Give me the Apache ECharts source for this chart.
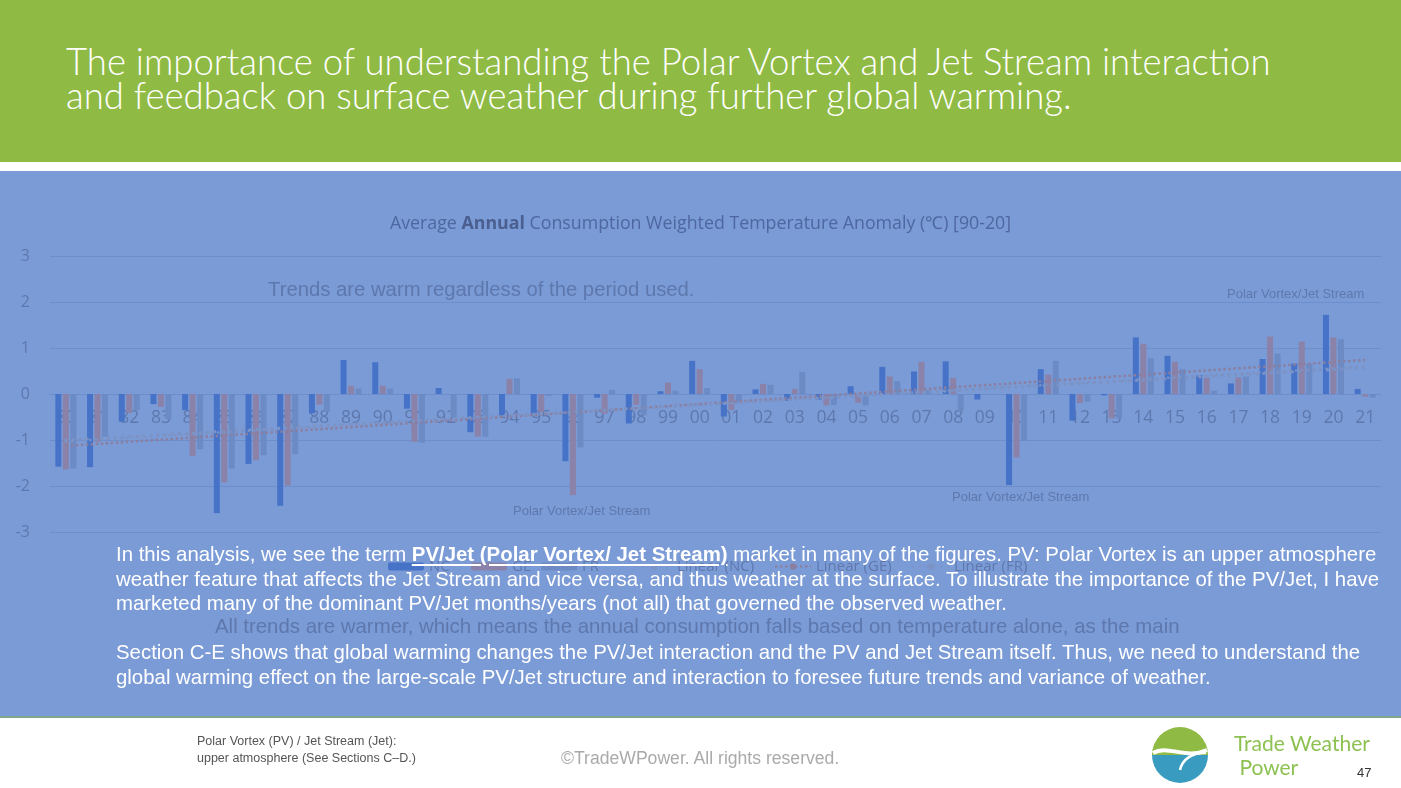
<!DOCTYPE html>
<html>
<head>
<meta charset="utf-8">
<script src="https://cdn.jsdelivr.net/npm/echarts@6/dist/echarts.min.js"></script>
<style>
  html, body { margin:0; padding:0; width:1401px; height:788px; overflow:hidden; background:#fff; }
  #header { position:absolute; left:0; top:0; width:1401px; height:162px; background:#8FBB45; }
  #htitle { position:absolute; left:66px; top:44px; color:#fff; font-family:Lato, sans-serif; font-weight:300; font-size:36.5px; line-height:34px; white-space:nowrap; }
  #blue { position:absolute; left:0; top:171px; width:1401px; height:545px; background:#7B9BD6; }
  #gline { position:absolute; left:0; top:716px; width:1401px; height:2px; background:#7FA58A; }
  #chart { position:absolute; left:0; top:0; width:1401px; height:788px; }
  #para { position:absolute; left:116px; top:542px; color:#fff; font-family:"Liberation Sans", Arial, sans-serif; font-size:20.4px; line-height:24.5px; white-space:nowrap; }
  #para u { text-decoration-thickness:2px; text-underline-offset:3px; }
  .foot { position:absolute; font-family:"Liberation Sans", Arial, sans-serif; white-space:nowrap; }
</style>
</head>
<body>
<div id="header"><div id="htitle">The importance of understanding the Polar Vortex and Jet Stream interaction<br>and feedback on surface weather during further global warming.</div></div>
<div id="blue"></div>
<div id="gline"></div>
<div id="chart"></div>
<div id="para">In this analysis, we see the term <b><u>PV/Jet (Polar Vortex/ Jet Stream)</u></b> market in many of the figures. PV: Polar Vortex is an upper atmosphere<br>weather feature that affects the Jet Stream and vice versa, and thus weather at the surface. To illustrate the importance of the PV/Jet, I have<br>marketed many of the dominant PV/Jet months/years (not all) that governed the observed weather.<br><br>Section C-E shows that global warming changes the PV/Jet interaction and the PV and Jet Stream itself. Thus, we need to understand the<br>global warming effect on the large-scale PV/Jet structure and interaction to foresee future trends and variance of weather.</div>
<div class="foot" style="left:197px; top:733px; font-size:12.5px; line-height:17px; color:#555;">Polar Vortex (PV) / Jet Stream (Jet):<br>upper atmosphere (See Sections C–D.)</div>
<div class="foot" style="left:561px; top:748px; font-size:17.6px; color:#aaa;">©TradeWPower. All rights reserved.</div>
<div class="foot" style="left:1234px; top:731px; font-size:21px; line-height:24px; color:#8DC152; font-family:Lato, sans-serif;">Trade Weather<br>&nbsp;Power</div>
<div class="foot" style="left:1357px; top:765px; font-size:13px; color:#333;">47</div>
<script>
var years = ['80','81','82','83','84','85','86','87','88','89','90','91','92','93','94','95','96','97','98','99','00','01','02','03','04','05','06','07','08','09','10','11','12','13','14','15','16','17','18','19','20','21'];
var valNC = [-1.58,-1.59,-0.60,-0.22,-0.35,-2.59,-1.52,-2.43,-0.42,0.74, 0.69,-0.32,0.13,-0.83,-0.46,-0.43,-1.46,-0.08,-0.64,0.06, 0.72,-0.49,0.10,-0.15,-0.12,0.17,0.59,0.49,0.71,-0.12, -1.98,0.54,-0.58,-0.03,1.23,0.83,0.41,0.23,0.76,0.66,1.72,0.11];
var valGE = [-1.64,-1.04,-0.41,-0.28,-1.35,-1.92,-1.44,-1.99,-0.23,0.18, 0.18,-1.04,0.00,-0.93,0.33,-0.39,-2.20,-0.43,-0.24,0.25, 0.54,-0.35,0.22,0.11,-0.25,-0.19,0.38,0.70,0.35,0.00, -1.38,0.42,-0.20,-0.53,1.09,0.70,0.35,0.36,1.25,1.14,1.23,-0.06];
var valFR = [-1.62,-0.93,-0.35,-0.55,-1.20,-1.62,-1.33,-1.31,-0.39,0.12, 0.12,-1.06,-0.50,-0.93,0.34,-0.04,-1.16,0.09,-0.46,0.07, 0.13,-0.18,0.20,0.48,-0.24,-0.25,0.28,0.08,-0.37,0.00, -1.01,0.72,-0.17,-0.53,0.78,0.54,0.07,0.38,0.88,0.66,1.19,-0.08];
// trend line end values (first year, last year)
var trendNC = [-1.03, 0.60];
var trendGE = [-1.13, 0.74];
var trendFR = [-1.00, 0.57];
var yTicks = [-3, 3, 1];

function ends(pair) {
  return years.map(function (y, i) { return i === 0 ? pair[0] : (i === years.length - 1 ? pair[1] : null); });
}

var txt = '#5E78AE';
var chart = echarts.init(document.getElementById('chart'), null, { renderer: 'canvas' });
function lg(left, name) {
  return { left: left, top: 554, data: [name], itemWidth: 36, itemHeight: 8, itemGap: 6,
           textStyle: { color: txt, fontSize: 15, fontFamily: 'Open Sans' } };
}
chart.setOption({
  backgroundColor: 'transparent',
  animation: false,
  title: {
    left: 'center', top: 210,
    text: '{n|Average }{b|Annual}{n| Consumption Weighted Temperature Anomaly (℃) [90-20]}',
    textStyle: { fontWeight: 'normal', rich: {
      n: { fontFamily: 'Open Sans', fontSize: 17.8, fontWeight: 'normal', color: '#4E67A0' },
      b: { fontFamily: 'Open Sans', fontSize: 17.8, fontWeight: 'bold', color: '#4A5F90' }
    } }
  },
  legend: [ lg(383, 'NC'), lg(466, 'GE'), lg(536, 'FR'), lg(630, 'Linear (NC)'), lg(769, 'Linear (GE)'), lg(907, 'Linear (FR)') ],
  grid: { left: 50, right: 20, top: 256, bottom: 256, containLabel: false },
  xAxis: {
    type: 'category', data: years, position: 'bottom', offset: -138,
    axisLine: { onZero: false, lineStyle: { color: '#6E8DCB', width: 1 } },
    axisTick: { show: false },
    axisLabel: { color: txt, fontSize: 17.5, fontFamily: 'Open Sans', margin: 15, interval: 0 },
    splitLine: { show: false }
  },
  yAxis: {
    type: 'value', min: yTicks[0], max: yTicks[1], interval: yTicks[2],
    axisLine: { show: false }, axisTick: { show: false },
    axisLabel: { color: txt, fontSize: 16, fontFamily: 'Open Sans', margin: 20 },
    splitLine: { lineStyle: { color: '#6E8DCB', width: 1 } }
  },
  series: [
    { name: 'NC', type: 'bar', data: valNC, barWidth: 6, barGap: '25%', itemStyle: { color: '#4673C8' } },
    { name: 'GE', type: 'bar', data: valGE, barWidth: 6, barGap: '25%', itemStyle: { color: '#8B82A9' } },
    { name: 'FR', type: 'bar', data: valFR, barWidth: 6, barGap: '25%', itemStyle: { color: '#6C8BC5' } },
    { name: 'Linear (NC)', type: 'line', data: ends(trendNC), connectNulls: true, showSymbol: false, symbol: 'none', z: 3,
      lineStyle: { color: '#7C93C6', width: 2.5, type: [0.1, 6], cap: 'round' }, itemStyle: { color: '#7C93C6' } },
    { name: 'Linear (GE)', type: 'line', data: ends(trendGE), connectNulls: true, showSymbol: false, symbol: 'none', z: 4,
      lineStyle: { color: '#8A7FA0', width: 2.5, type: [2.5, 2.5] }, itemStyle: { color: '#8A7FA0' } },
    { name: 'Linear (FR)', type: 'line', data: ends(trendFR), connectNulls: true, showSymbol: false, symbol: 'none', z: 4,
      lineStyle: { color: '#7C93C6', width: 3.2, type: [0.1, 7], cap: 'round' }, itemStyle: { color: '#7C93C6' } }
  ],
  graphic: [
    { type: 'text', x: 268, y: 280, style: { text: 'Trends are warm regardless of the period used.', fill: '#5E78AE', font: '20.3px "Liberation Sans", Arial, sans-serif' } },
    { type: 'text', x: 1227, y: 288, style: { text: 'Polar Vortex/Jet Stream', fill: '#5E78AE', font: '13px "Liberation Sans", Arial, sans-serif' } },
    { type: 'text', x: 513, y: 505, style: { text: 'Polar Vortex/Jet Stream', fill: '#5E78AE', font: '13px "Liberation Sans", Arial, sans-serif' } },
    { type: 'text', x: 952, y: 491, style: { text: 'Polar Vortex/Jet Stream', fill: '#5E78AE', font: '13px "Liberation Sans", Arial, sans-serif' } },
    { type: 'text', x: 215, y: 617, style: { text: 'All trends are warmer, which means the annual consumption falls based on temperature alone, as the main', fill: '#5E78AE', font: '20.4px "Liberation Sans", Arial, sans-serif' } },
    { type: 'sector', shape: { cx: 1180, cy: 755, r: 28, r0: 0, startAngle: Math.PI, endAngle: 2 * Math.PI }, style: { fill: '#8FBB45' } },
    { type: 'sector', shape: { cx: 1180, cy: 755, r: 28, r0: 0, startAngle: 0, endAngle: Math.PI }, style: { fill: '#3A9BC0' } },
    { type: 'bezierCurve', shape: { x1: 1153, y1: 753, cpx1: 1168, cpy1: 744, cpx2: 1185, cpy2: 760, x2: 1207, y2: 750 }, style: { stroke: '#ffffff', lineWidth: 4, fill: null } },
    { type: 'bezierCurve', shape: { x1: 1180, y1: 770, cpx1: 1182, cpy1: 760, cpx2: 1192, cpy2: 752, x2: 1206, y2: 753 }, style: { stroke: '#ffffff', lineWidth: 2.5, fill: null } }
  ]
});
</script>
</body>
</html>
